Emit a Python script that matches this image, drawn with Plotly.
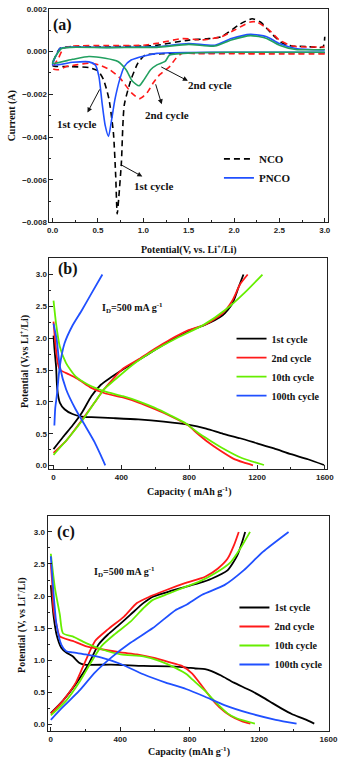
"""
Recreación de la figura CV + curvas de carga/descarga (NCO / PNCO) con Plotly.
"""
import plotly.graph_objects as go

W, H = 349, 764

# ---------------- (a) voltametría cíclica ----------------
NCO_1_V = [3.0, 2.5, 2.0, 1.5, 1.2, 1.02, 0.94, 0.865, 0.79, 0.758, 0.73, 0.712, 0.695, 0.67, 0.62,
           0.56, 0.5, 0.4, 0.2, 0.0, 0.03, 0.08, 0.19, 0.5, 1.0, 1.15, 1.5, 1.72, 1.86, 2.07, 2.2,
           2.29, 2.43, 2.54, 2.64, 2.8, 2.98, 3.0]
NCO_1_I = [-0.00005, -0.00005, -0.00006, -0.00006, -0.0001, -0.00016, -0.00054, -0.0013, -0.0025,
           -0.0052, -0.0068, -0.0076, -0.0058, -0.0038, -0.0022, -0.0013, -0.0009, -0.00075, -0.0007,
           -0.00065, -0.00023, 0.00015, 0.00023, 0.00022, 0.00026, 0.0003, 0.00054, 0.00061, 0.0007,
           0.0013, 0.00154, 0.00139, 0.00077, 0.00038, 0.00026, 0.00024, 0.00022, 0.0007]

NCO_2_V = [3.0, 2.5, 2.0, 1.6, 1.43, 1.36, 1.29, 1.18, 1.11, 1.04, 0.96, 0.87, 0.74, 0.63, 0.51,
           0.40, 0.26, 0.15, 0.06, 0.0, 0.064, 0.12, 0.22, 0.6, 1.0, 1.15, 1.43, 1.65, 1.86, 2.0,
           2.18, 2.25, 2.39, 2.5, 2.64, 2.8, 3.0]
NCO_2_I = [-0.00011, -0.00011, -0.0001, -0.0001, -0.00008, -0.00031, -0.0007, -0.00108, -0.00146,
           -0.00193, -0.0022, -0.00193, -0.00123, -0.00085, -0.00062, -0.00054, -0.00062, -0.0007,
           -0.00085, -0.0008, -0.00031, 0.00015, 0.00026, 0.00028, 0.0003, 0.00039, 0.00061, 0.00055,
           0.0007, 0.001, 0.00139, 0.00139, 0.001, 0.00054, 0.00026, 0.00022, 0.00022]

PNCO_1_V = [3.0, 2.5, 2.0, 1.5, 1.29, 1.15, 1.01, 0.865, 0.79, 0.74, 0.687, 0.65, 0.616, 0.58, 0.545,
            0.51, 0.47, 0.40, 0.22, 0.0, 0.05, 0.08, 0.19, 0.6, 1.0, 1.15, 1.5, 1.79, 1.97, 2.18,
            2.36, 2.5, 2.68, 3.0]
PNCO_1_I = [-0.00003, -0.00003, -0.00003, -0.00004, -0.00005, -0.00008, -0.0002, -0.00039, -0.0007,
            -0.0013, -0.00224, -0.0032, -0.00397, -0.00347, -0.0024, -0.00116, -0.00062, -0.00048,
            -0.0005, -0.00062, -0.00008, 0.00015, 0.00021, 0.0002, 0.00022, 0.00023, 0.00038, 0.0003,
            0.00061, 0.00081, 0.0007, 0.00038, 0.00015, 0.00008]

PNCO_2_V = [3.0, 2.5, 2.0, 1.58, 1.29, 1.24, 1.15, 1.08, 1.01, 0.954, 0.88, 0.81, 0.72, 0.58, 0.40,
            0.22, 0.0, 0.05, 0.1, 0.2, 0.6, 1.0, 1.15, 1.5, 1.79, 1.97, 2.18, 2.36, 2.5, 2.68, 3.0]
PNCO_2_I = [-0.00003, -0.00003, -0.00003, -0.00005, -0.00016, -0.00046, -0.00062, -0.00085, -0.0013,
            -0.0016, -0.00139, -0.00085, -0.00046, -0.00031, -0.00023, -0.00036, -0.00054, -0.0001,
            0.00015, 0.0002, 0.00019, 0.0002, 0.0002, 0.00034, 0.00026, 0.00054, 0.00075, 0.00062,
            0.0003, 0.0001, 0.0001]

# ---------------- (b) NCO carga/descarga ----------------
B1_DIS_C = [0, 5, 10, 15, 22, 37, 65, 112, 167, 223, 353, 500, 650, 800, 900, 1000, 1100, 1200, 1300,
            1400, 1500, 1595]
B1_DIS_V = [2.04, 1.85, 1.70, 1.56, 1.20, 0.99, 0.885, 0.81, 0.77, 0.76, 0.745, 0.725, 0.69, 0.64,
            0.58, 0.50, 0.43, 0.35, 0.27, 0.18, 0.10, 0.01]
B1_CHA_C = [0, 56, 112, 167, 223, 279, 335, 409, 502, 595, 688, 790, 885, 997, 1054, 1091, 1120]
B1_CHA_V = [0.26, 0.45, 0.63, 0.83, 1.09, 1.27, 1.38, 1.51, 1.66, 1.81, 1.96, 2.11, 2.20, 2.36, 2.54,
            2.80, 3.0]

B2_DIS_C = [0, 9, 22, 37, 93, 149, 223, 298, 409, 502, 595, 688, 790, 850, 910, 980, 1060, 1120, 1176]
B2_DIS_V = [2.26, 1.97, 1.66, 1.51, 1.43, 1.35, 1.22, 1.14, 1.07, 0.99, 0.89, 0.78, 0.64, 0.50, 0.37,
            0.24, 0.11, 0.05, 0.005]
B2_CHA_C = [0, 74, 149, 242, 298, 409, 502, 595, 688, 790, 900, 997, 1054, 1101, 1145]
B2_CHA_V = [0.20, 0.39, 0.65, 0.99, 1.20, 1.52, 1.67, 1.83, 1.98, 2.12, 2.22, 2.39, 2.59, 2.85, 3.0]

B10_DIS_C = [0, 15, 37, 74, 130, 205, 298, 409, 502, 595, 688, 781, 850, 920, 1000, 1110, 1241]
B10_DIS_V = [2.59, 2.23, 1.87, 1.61, 1.40, 1.27, 1.17, 1.09, 1.01, 0.91, 0.79, 0.66, 0.52, 0.40, 0.27,
             0.12, 0.01]
B10_CHA_C = [0, 93, 167, 242, 298, 354, 465, 595, 725, 885, 1016, 1129, 1232]
B10_CHA_V = [0.17, 0.45, 0.70, 0.99, 1.20, 1.33, 1.58, 1.81, 2.0, 2.21, 2.45, 2.72, 3.0]

B100_DIS_C = [0, 10, 19, 37, 74, 130, 186, 242, 279, 305]
B100_DIS_V = [2.23, 2.10, 1.97, 1.56, 1.20, 0.885, 0.63, 0.37, 0.16, 0.005]
B100_CHA_C = [5, 10, 19, 37, 65, 112, 167, 223, 288]
B100_CHA_V = [0.63, 0.90, 1.09, 1.56, 1.92, 2.20, 2.44, 2.70, 3.0]

# ---------------- (c) PNCO carga/descarga ----------------
C1_DIS_C = [0, 6, 15, 33, 61, 89, 126, 163, 191, 348, 533, 718, 783, 833, 889, 926, 981, 1055, 1148,
            1222, 1277, 1333, 1388, 1462, 1518]
C1_DIS_V = [2.17, 1.97, 1.71, 1.40, 1.19, 1.12, 1.06, 0.96, 0.93, 0.93, 0.91, 0.90, 0.885, 0.87, 0.86,
            0.83, 0.76, 0.65, 0.53, 0.42, 0.33, 0.24, 0.16, 0.08, 0.01]
C1_CHA_C = [0, 70, 144, 218, 274, 329, 385, 459, 533, 588, 681, 773, 852, 926, 1018, 1074, 1102, 1120]
C1_CHA_V = [0.175, 0.37, 0.63, 0.94, 1.24, 1.40, 1.53, 1.71, 1.89, 1.99, 2.07, 2.14, 2.20, 2.27, 2.40,
            2.63, 2.84, 3.0]

C2_DIS_C = [0, 8, 15, 33, 52, 126, 200, 292, 403, 496, 588, 681, 755, 815, 870, 926, 970, 1037, 1100,
            1150]
C2_DIS_V = [2.5, 2.2, 1.81, 1.55, 1.37, 1.30, 1.22, 1.17, 1.12, 1.09, 1.04, 0.97, 0.91, 0.79, 0.60,
            0.40, 0.27, 0.13, 0.05, 0.01]
C2_CHA_C = [0, 70, 144, 200, 255, 329, 422, 496, 570, 662, 773, 889, 963, 1018, 1055, 1083]
C2_CHA_V = [0.165, 0.37, 0.65, 0.99, 1.30, 1.48, 1.68, 1.89, 1.99, 2.09, 2.20, 2.30, 2.43, 2.58, 2.79,
            3.0]

C10_DIS_C = [0, 24, 52, 70, 126, 200, 292, 403, 533, 625, 718, 783, 815, 889, 944, 1018, 1074, 1176]
C10_DIS_V = [2.66, 2.12, 1.71, 1.42, 1.37, 1.27, 1.17, 1.09, 1.06, 0.99, 0.88, 0.78, 0.70, 0.52, 0.36,
             0.17, 0.09, 0.01]
C10_CHA_C = [0, 89, 163, 237, 292, 366, 459, 533, 588, 681, 773, 852, 944, 1037, 1092, 1148]
C10_CHA_V = [0.14, 0.37, 0.65, 0.99, 1.22, 1.40, 1.60, 1.81, 1.94, 2.04, 2.14, 2.22, 2.35, 2.53, 2.74,
             3.0]

C100_DIS_C = [0, 15, 33, 61, 89, 126, 200, 292, 403, 533, 662, 779, 889, 1000, 1148, 1296, 1416]
C100_DIS_V = [2.62, 2.07, 1.55, 1.24, 1.14, 1.12, 1.09, 1.04, 0.94, 0.78, 0.65, 0.55, 0.43, 0.30, 0.17,
              0.07, 0.01]
C100_CHA_C = [0, 70, 163, 255, 348, 459, 588, 718, 779, 872, 1000, 1111, 1222, 1370]
C100_CHA_V = [0.07, 0.27, 0.52, 0.81, 1.04, 1.27, 1.50, 1.78, 1.86, 2.02, 2.17, 2.40, 2.69, 3.0]

CYCLE_NAMES = ["1st cycle", "2nd cycle", "10th cycle", "100th cycle"]
CYCLE_COLORS = ["#000000", "#ff1a1a", "#66ee00", "#2050ff"]

SERIF = "Liberation Serif"
SANS = "Liberation Sans"


def px_x(p):
    return p / W


def px_y(p):
    return 1 - p / H


fig = go.Figure()

# Trazas del panel (a)
cv_series = [
    (NCO_1_V, NCO_1_I, "NCO", "#000000", "6px,4px", True),
    (NCO_2_V, NCO_2_I, "NCO 2nd", "#ff1a1a", "6px,4px", False),
    (PNCO_1_V, PNCO_1_I, "PNCO", "#2050ff", "solid", True),
    (PNCO_2_V, PNCO_2_I, "PNCO 2nd", "#22a060", "solid", False),
]
for v, i, name, col, dash, show in cv_series:
    fig.add_trace(go.Scatter(
        x=v, y=i, mode="lines", name=name, showlegend=show, legend="legend",
        line=dict(color=col, width=1.6, dash=dash, shape="spline", smoothing=0.6),
        xaxis="x", yaxis="y"))

# Trazas de los paneles (b) y (c)
panel_b = [(B1_DIS_C, B1_DIS_V, B1_CHA_C, B1_CHA_V), (B2_DIS_C, B2_DIS_V, B2_CHA_C, B2_CHA_V),
           (B10_DIS_C, B10_DIS_V, B10_CHA_C, B10_CHA_V), (B100_DIS_C, B100_DIS_V, B100_CHA_C, B100_CHA_V)]
panel_c = [(C1_DIS_C, C1_DIS_V, C1_CHA_C, C1_CHA_V), (C2_DIS_C, C2_DIS_V, C2_CHA_C, C2_CHA_V),
           (C10_DIS_C, C10_DIS_V, C10_CHA_C, C10_CHA_V), (C100_DIS_C, C100_DIS_V, C100_CHA_C, C100_CHA_V)]

for data, xa, ya, leg in [(panel_b, "x2", "y2", "legend2"), (panel_c, "x3", "y3", "legend3")]:
    for k, (dc, dv, cc, cv) in enumerate(data):
        for j, (xs, ys) in enumerate([(dc, dv), (cc, cv)]):
            fig.add_trace(go.Scatter(
                x=xs, y=ys, mode="lines", name=CYCLE_NAMES[k], showlegend=(j == 0), legend=leg,
                line=dict(color=CYCLE_COLORS[k], width=1.8, shape="spline", smoothing=0.6),
                xaxis=xa, yaxis=ya))

tick_font = dict(family=SANS, size=8, color="#222", weight="bold")
axis_common = dict(showline=True, linecolor="#222", linewidth=1, mirror=True, ticks="inside",
                   ticklen=4, tickcolor="#222", showgrid=False, zeroline=False, tickfont=tick_font,
                   minor=dict(ticks="inside", ticklen=2, tickcolor="#222"))

fig.update_layout(
    width=W, height=H, margin=dict(l=0, r=0, t=0, b=0),
    paper_bgcolor="white", plot_bgcolor="white",
    xaxis=dict(domain=[px_x(49), px_x(337)], range=[-0.035, 3.04], tickvals=[0, 0.5, 1, 1.5, 2, 2.5, 3],
               tickformat=".1f", anchor="y", **axis_common),
    yaxis=dict(domain=[px_y(221), px_y(5)], range=[-0.008, 0.002], dtick=0.002, tickformat=".3f",
               anchor="x", **axis_common),
    xaxis2=dict(domain=[px_x(49), px_x(336)], range=[-24, 1615], dtick=400, anchor="y2", **axis_common),
    yaxis2=dict(domain=[px_y(471), px_y(257)], range=[-0.06, 3.26], dtick=0.5, tickformat=".1f",
                anchor="x2", **axis_common),
    xaxis3=dict(domain=[px_x(47), px_x(338)], range=[-19, 1605], dtick=400, anchor="y3", **axis_common),
    yaxis3=dict(domain=[px_y(736), px_y(518)], range=[-0.11, 3.25], dtick=0.5, tickformat=".1f",
                anchor="x3", **axis_common),
    legend=dict(x=px_x(224), y=px_y(142), xanchor="left", yanchor="top", bgcolor="rgba(0,0,0,0)",
                font=dict(family=SERIF, size=11, color="#111", weight="bold")),
    legend2=dict(x=px_x(237), y=px_y(324), xanchor="left", yanchor="top", bgcolor="rgba(0,0,0,0)",
                 font=dict(family=SERIF, size=10, color="#111", weight="bold")),
    legend3=dict(x=px_x(240), y=px_y(596), xanchor="left", yanchor="top", bgcolor="rgba(0,0,0,0)",
                 font=dict(family=SERIF, size=10, color="#111", weight="bold")),
)
fig.update_layout(xaxis2_minor_dtick=200, xaxis3_minor_dtick=200, yaxis2_minor_dtick=0.25,
                  yaxis3_minor_dtick=0.25, xaxis_minor_dtick=0.25, yaxis_minor_dtick=0.001)


def add_text(px, py, text, size=10, angle=0):
    fig.add_annotation(x=px_x(px), y=px_y(py), xref="paper", yref="paper", text=text, showarrow=False,
                       textangle=angle, xanchor="center", yanchor="middle",
                       font=dict(family=SERIF, size=size, color="#111", weight="bold"))


# Títulos de ejes
add_text(193, 248, "Potential(V, vs. Li<sup>+</sup>/Li)", 10)
add_text(10, 113, "Current (A)", 10, -90)
add_text(193, 493, "Capacity ( mAh g<sup>-1</sup>)", 10)
add_text(23, 362, "Potential (V,vs Li<sup>+</sup>/Li)", 10, -90)
add_text(193, 756, "Capacity (mAh g<sup>-1</sup>)", 10)
add_text(20, 628, "Potential (V, vs Li<sup>+</sup>/Li)", 10, -90)

# Etiquetas de panel
add_text(62, 21, "(a)", 16)
add_text(68, 268, "(b)", 16)
add_text(66, 534, "(c)", 16)

# Corriente de descarga
add_text(135, 308, "I<sub>D</sub>=500 mA g<sup>-1</sup>", 10)
add_text(126, 575, "I<sub>D</sub>=500 mA g<sup>-1</sup>", 10)

# Flechas (de la curva hacia el texto) y textos de ciclos en (a)
arrows = [
    (0.527, -0.0017, 0.384, -0.00285),
    (0.741, -0.00527, 0.989, -0.00585),
    (1.131, -0.00146, 1.203, -0.00247),
    (1.181, -0.00068, 1.491, -0.00137),
]
for x0, y0, x1, y1 in arrows:
    fig.add_annotation(x=x1, y=y1, ax=x0, ay=y0, xref="x", yref="y", axref="x", ayref="y", text="",
                       showarrow=True, arrowhead=2, arrowsize=1, arrowwidth=1, arrowcolor="#111")

for x, y, t in [(0.274, -0.00339, "1st cycle"), (1.114, -0.00628, "1st cycle"),
                (1.256, -0.00298, "2nd cycle"), (1.736, -0.00154, "2nd cycle")]:
    fig.add_annotation(x=x, y=y, xref="x", yref="y", text=t, showarrow=False,
                       font=dict(family=SERIF, size=11, color="#111", weight="bold"))

# Sin margen del <body> y sin barra de herramientas, para que la figura ocupe la ventana exacta
fig.write_html("out.html", config={"displayModeBar": False},
               post_script="document.body.style.margin='0';")
